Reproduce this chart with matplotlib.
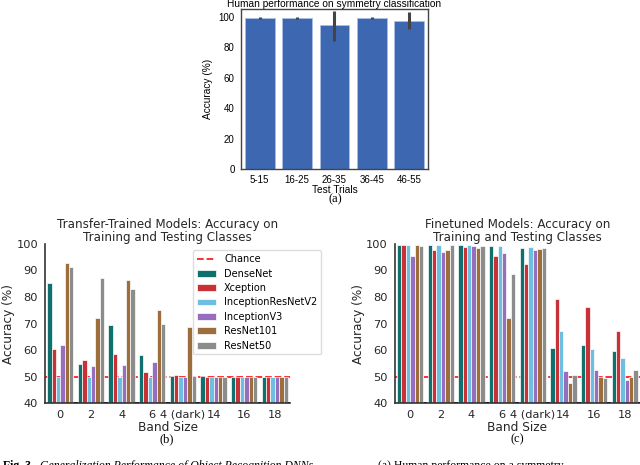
import matplotlib

matplotlib.use("Agg")
import matplotlib.pyplot as plt
import numpy as np

# ---------------------------------------------------------------------------
# Data
# ---------------------------------------------------------------------------
trial_labels = ["5-15", "16-25", "26-35", "36-45", "46-55"]
human_acc = [99.4, 99.4, 94.4, 99.4, 97.0]
human_err_lo = [0.6, 0.6, 10.1, 0.6, 5.2]
human_err_hi = [0.8, 0.8, 9.6, 0.8, 6.5]

band_labels = ["0", "2", "4", "6", "4 (dark)", "14", "16", "18"]
models = ["DenseNet", "Xception", "InceptionResNetV2", "InceptionV3",
          "ResNet101", "ResNet50"]
chance = 50

transfer_acc = {
    "DenseNet":          [85.1, 54.9, 69.6, 58.0, 50.3, 50.1, 49.9, 49.9],
    "Xception":          [60.2, 56.1, 58.6, 51.8, 50.4, 49.8, 49.9, 49.8],
    "InceptionResNetV2": [49.8, 49.8, 49.8, 49.8, 49.8, 49.8, 49.8, 49.8],
    "InceptionV3":       [61.7, 53.8, 54.2, 55.5, 49.8, 49.8, 49.8, 49.8],
    "ResNet101":         [92.7, 71.9, 86.6, 75.0, 68.7, 49.8, 49.8, 49.8],
    "ResNet50":          [91.2, 87.3, 83.0, 69.7, 50.2, 50.0, 49.8, 49.8],
}
finetuned_acc = {
    "DenseNet":          [99.6, 99.7, 99.7, 99.4, 98.4, 60.8, 61.7, 59.8],
    "Xception":          [99.6, 97.7, 98.9, 95.3, 92.3, 79.4, 76.2, 67.1],
    "InceptionResNetV2": [99.6, 99.7, 99.5, 99.4, 98.9, 67.1, 60.2, 56.9],
    "InceptionV3":       [95.6, 97.1, 99.1, 96.6, 97.8, 52.0, 52.6, 48.8],
    "ResNet101":         [99.6, 97.7, 98.5, 72.1, 98.2, 47.6, 50.0, 49.7],
    "ResNet50":          [99.4, 99.7, 99.4, 88.6, 98.6, 50.7, 49.5, 52.6],
}

model_colors = ["#10706e", "#c83237", "#6ebee2", "#966ebe", "#9b6e3c", "#8c8c8c"]

# ---------------------------------------------------------------------------
fig = plt.figure(figsize=(6.4, 4.65), dpi=100)
fig.patch.set_facecolor("white")

# (a) human performance ------------------------------------------------------
sans = ["Liberation Sans", "DejaVu Sans"]
ax_a = fig.add_axes([0.3766, 0.6366, 0.292, 0.344])
xa = np.arange(len(trial_labels))
ax_a.bar(xa, human_acc, width=0.8, color="#3d67b1", edgecolor="#a9bfe6",
         linewidth=0.6)
eb = ax_a.errorbar(xa, human_acc, yerr=[human_err_lo, human_err_hi], fmt="none",
                   ecolor="#444444", elinewidth=2.2, capsize=0)
for coll in eb.lines[2]:
    coll.set_clip_on(True)
    coll.set_capstyle("butt")
ax_a.set_xlim(-0.5, 4.5)
ax_a.set_ylim(0, 105.2)
ax_a.set_yticks(range(0, 101, 20))
ax_a.set_xticks(xa)
ax_a.set_xticklabels(trial_labels)
for lab in ax_a.get_xticklabels() + ax_a.get_yticklabels():
    lab.set_family(sans)
    lab.set_fontsize(7)
ax_a.tick_params(length=0, pad=4.5)
ax_a.set_xlabel("Test Trials", fontsize=7.3, family=sans, labelpad=0)
ax_a.set_ylabel("Accuracy (%)", fontsize=7.3, family=sans, labelpad=4)
ax_a.set_title("Human performance on symmetry classification", fontsize=7.3,
               family=sans, pad=1.5)
for sp in ax_a.spines.values():
    sp.set_color("#444444")
    sp.set_linewidth(1.0)


# (b), (c) model panels ------------------------------------------------------
def model_panel(rect, acc, title, legend):
    ax = fig.add_axes(rect)
    x = np.arange(len(band_labels))
    w = 1 / 7
    ax.axhline(chance, color="#ff2020", linestyle="--", linewidth=1.3,
               zorder=1, label="Chance")
    for j, (m, c) in enumerate(zip(models, model_colors)):
        ax.bar(x + (j - 2.5) * w, np.array(acc[m]) - 40, bottom=40, width=w,
               color=c, edgecolor=(1, 1, 1, 0.7), linewidth=0.7, zorder=2,
               label=m)
    # empty slot closing each group
    ax.bar(x + 3.5 * w, np.zeros(len(x)), bottom=40, width=w * 0.9,
           color="#222222", edgecolor="#222222", linewidth=1.4, zorder=3)
    ax.set_xlim(-0.5, 7.5)
    ax.set_ylim(40, 100)
    ax.set_yticks(range(40, 101, 10))
    ax.set_xticks(x)
    ax.set_xticklabels(band_labels)
    ax.tick_params(length=0, labelsize=8.2, colors="#262626", pad=5)
    ax.set_xlabel("Band Size", fontsize=8.7, color="#262626", labelpad=1)
    ax.set_ylabel("Accuracy (%)", fontsize=8.7, color="#262626", labelpad=1)
    ax.set_title(title, fontsize=8.6, color="#262626", pad=2, linespacing=1.0)
    for s in ("top", "right"):
        ax.spines[s].set_visible(False)
    for s in ("left", "bottom"):
        ax.spines[s].set_color("#333333")
        ax.spines[s].set_linewidth(1.2)
    if legend:
        ax.legend(loc="upper left", bbox_to_anchor=(0.584, 0.99), fontsize=7,
                  frameon=True, edgecolor="#dddddd", framealpha=1,
                  borderpad=0.4, labelspacing=0.45, handlelength=2.0)
    return ax


model_panel([0.0703, 0.1333, 0.383, 0.342], transfer_acc,
            "Transfer-Trained Models: Accuracy on\nTraining and Testing Classes",
            legend=True)
model_panel([0.617, 0.1333, 0.383, 0.342], finetuned_acc,
            "Finetuned Models: Accuracy on\nTraining and Testing Classes",
            legend=False)

# panel letters and caption ----------------------------------------------------
serif = ["Liberation Serif", "DejaVu Serif"]
fig.text(335 / 640, 1 - 199.5 / 465, "(a)", ha="center", va="center",
         fontsize=9, family=serif)
fig.text(167 / 640, 1 - 439 / 465, "(b)", ha="center", va="center",
         fontsize=9, family=serif)
fig.text(517 / 640, 1 - 439 / 465, "(c)", ha="center", va="center",
         fontsize=9, family=serif)
cap_y = 1 - 460 / 465
fig.text(3 / 640, cap_y, "Fig. 3.", ha="left", va="top", fontsize=8.5,
         family=serif, weight="bold")
fig.text(40 / 640, cap_y, "Generalization Performance of Object Recognition DNNs.",
         ha="left", va="top", fontsize=8.5, family=serif, style="italic")
fig.text(378 / 640, cap_y, "(a) Human performance on a symmetry",
         ha="left", va="top", fontsize=8.5, family=serif)

fig.savefig("out.png", dpi=100)
